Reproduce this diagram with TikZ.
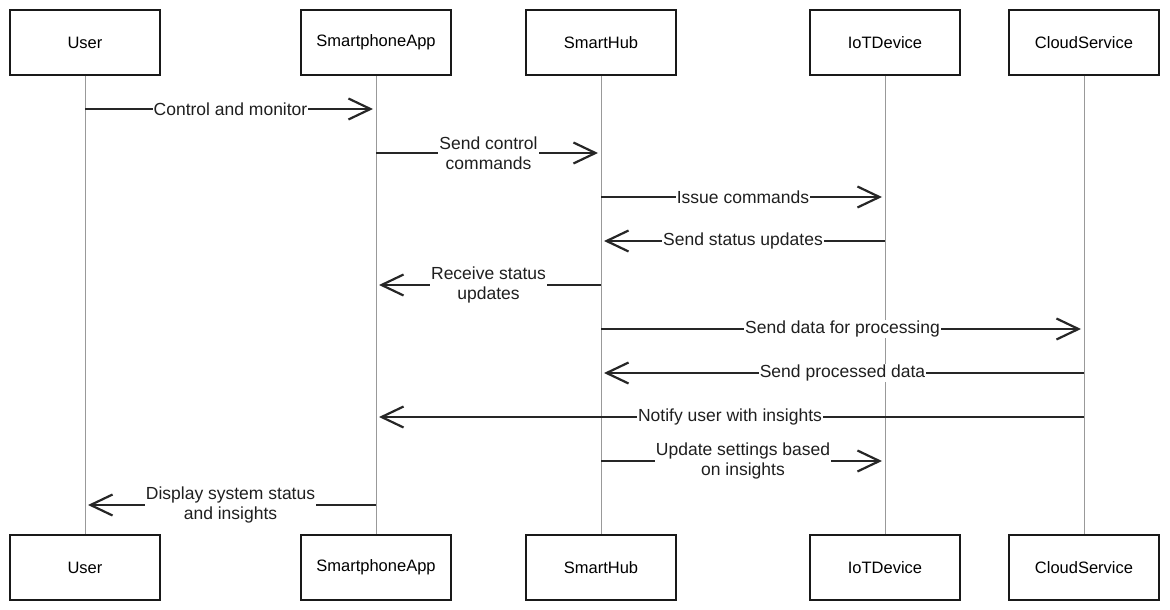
\documentclass[tikz,border=0pt]{standalone}
\usepackage{fontspec}
\setmainfont{Liberation Sans}
\usetikzlibrary{arrows.meta}
\begin{document}
\begin{tikzpicture}[x=1pt,y=-1pt,
  actor/.style={draw=black!90,line width=2pt,fill=white,minimum width=150pt,minimum height=65pt,inner sep=0pt,font=\fontsize{16.5}{19}\selectfont},
  lifeline/.style={draw=black!40,line width=1pt},
  msg/.style={draw=black!85,line width=2.6pt,shorten >=3pt,-{Straight Barb[length=22pt,width=21pt,line width=2.2pt]}},
  lbl/.style={fill=white,inner sep=1pt,align=center,font=\fontsize{17.5}{20}\selectfont,text=black!88}]
\useasboundingbox (0,0) rectangle (1170,610);
% participants, top row
\node[actor] (uT) at (85,42.5) {User};
\node[actor] (aT) at (376,42.5) {SmartphoneApp};
\node[actor] (hT) at (601,42.5) {SmartHub};
\node[actor] (iT) at (885,42.5) {IoTDevice};
\node[actor] (cT) at (1084,42.5) {CloudService};
% participants, bottom row
\node[actor] (uB) at (85,567.5) {User};
\node[actor] (aB) at (376,567.5) {SmartphoneApp};
\node[actor] (hB) at (601,567.5) {SmartHub};
\node[actor] (iB) at (885,567.5) {IoTDevice};
\node[actor] (cB) at (1084,567.5) {CloudService};
% lifelines
\foreach \p in {u,a,h,i,c}
  \draw[lifeline] (\p T.south) -- (\p B.north);
% message rows
\coordinate (r1) at (0,109);
\coordinate (r2) at (0,153);
\coordinate (r3) at (0,197);
\coordinate (r4) at (0,241);
\coordinate (r5) at (0,285);
\coordinate (r6) at (0,329);
\coordinate (r7) at (0,373);
\coordinate (r8) at (0,417);
\coordinate (r9) at (0,461);
\coordinate (r10) at (0,505);
% messages
\draw[msg] (uT |- r1) -- node[lbl] {Control and monitor} (aT |- r1);
\draw[msg] (aT |- r2) -- node[lbl] {Send control\\commands} (hT |- r2);
\draw[msg] (hT |- r3) -- node[lbl] {Issue commands} (iT |- r3);
\draw[msg] (iT |- r4) -- node[lbl] {Send status updates} (hT |- r4);
\draw[msg] (hT |- r5) -- node[lbl] {Receive status\\updates} (aT |- r5);
\draw[msg] (hT |- r6) -- node[lbl] {Send data for processing} (cT |- r6);
\draw[msg] (cT |- r7) -- node[lbl] {Send processed data} (hT |- r7);
\draw[msg] (cT |- r8) -- node[lbl] {Notify user with insights} (aT |- r8);
\draw[msg] (hT |- r9) -- node[lbl] {Update settings based\\on insights} (iT |- r9);
\draw[msg] (aT |- r10) -- node[lbl] {Display system status\\and insights} (uT |- r10);
\end{tikzpicture}
\end{document}
